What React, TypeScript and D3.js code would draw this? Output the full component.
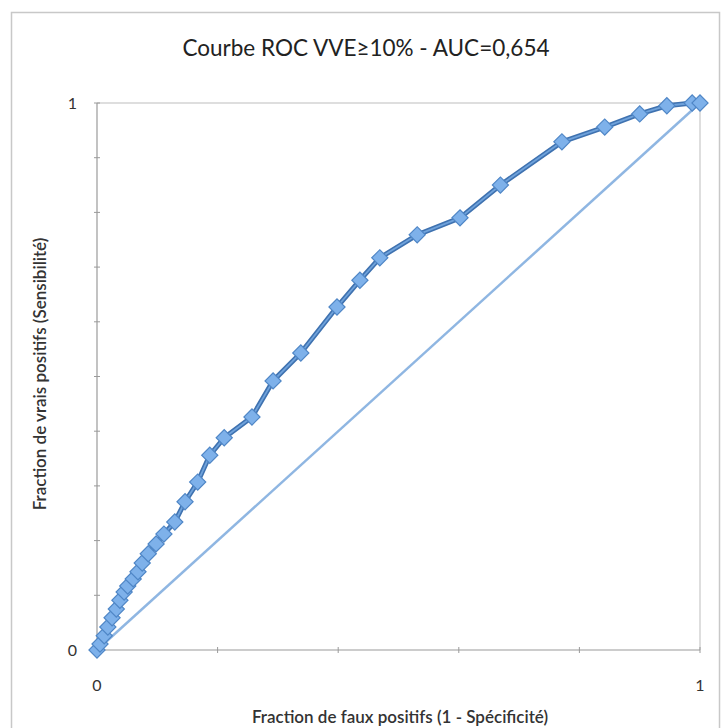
import { useMemo } from "react";
import * as d3 from "d3";

// ROC points (1 - specificity, sensitivity)
const fpr = [
  0, 0.005, 0.012, 0.018, 0.025, 0.032, 0.038, 0.045, 0.051, 0.06, 0.068, 0.075,
  0.085, 0.098, 0.111, 0.129, 0.146, 0.167, 0.187, 0.211, 0.257, 0.292, 0.338,
  0.398, 0.436, 0.469, 0.531, 0.602, 0.669, 0.771, 0.842, 0.9, 0.945, 0.987, 1,
];
const tpr = [
  0, 0.011, 0.026, 0.042, 0.059, 0.075, 0.091, 0.106, 0.117, 0.13, 0.143, 0.159,
  0.176, 0.194, 0.212, 0.234, 0.271, 0.307, 0.356, 0.388, 0.426, 0.492, 0.543,
  0.627, 0.676, 0.717, 0.759, 0.79, 0.85, 0.929, 0.956, 0.98, 0.995, 1, 1,
];
const diagonal = [0, 1];
const xTickValues = [0, 0.2, 0.4, 0.6, 0.8, 1];
const yTickValues = [0, 0.1, 0.2, 0.3, 0.4, 0.5, 0.6, 0.7, 0.8, 0.9, 1];
const tickLabels = ["0", "1"];

const title = "Courbe ROC VVE≥10% - AUC=0,654";
const xTitle = "Fraction de faux positifs (1 - Spécificité)";
const yTitle = "Fraction de vrais positifs (Sensibilité)";

export default function App() {
  const W = 723;
  const H = 728;
  const left = 97, right = 700, top = 103, bottom = 650;

  const x = d3.scaleLinear().domain([0, 1]).range([left, right]);
  const y = d3.scaleLinear().domain([0, 1]).range([bottom, top]);

  const pts = useMemo(() => fpr.map((v, i) => [v, tpr[i]] as [number, number]), []);
  const line = d3
    .line<[number, number]>()
    .x((d) => x(d[0]))
    .y((d) => y(d[1]));
  const diamond = d3.symbol(d3.symbolSquare, 130)() as string;

  const font = "Lato, 'Open Sans', sans-serif";

  return (
    <div style={{ position: "absolute", left: 0, top: 0 }}>
      <svg width={W} height={H} style={{ display: "block", background: "#fff" }}>
        {/* chart border */}
        <rect x={11.5} y={12.5} width={708} height={730} fill="none" stroke="#c8c8c8" strokeWidth={1.5} />

        <text x={366} y={56} textAnchor="middle" fontFamily={font} fontSize={22.5} fill="#222">
          {title}
        </text>

        {/* plot frame */}
        <line x1={left} x2={right} y1={top} y2={top} stroke="#bdbdbd" strokeWidth={1} />
        <line x1={right} x2={right} y1={top} y2={bottom} stroke="#bdbdbd" strokeWidth={1} />
        <line x1={left} x2={right} y1={bottom} y2={bottom} stroke="#9a9a9a" strokeWidth={1.2} />
        <line x1={left} x2={left} y1={top} y2={bottom} stroke="#9a9a9a" strokeWidth={1.2} />

        {xTickValues.map((t) => (
          <line key={"xt" + t} x1={x(t)} x2={x(t)} y1={bottom - 3} y2={bottom + 3} stroke="#9a9a9a" />
        ))}
        {yTickValues.map((t) => (
          <line key={"yt" + t} x1={left - 3} x2={left + 3} y1={y(t)} y2={y(t)} stroke="#9a9a9a" />
        ))}

        {tickLabels.map((l, i) => (
          <text key={"xl" + l} x={x(i)} y={bottom + 41} textAnchor="middle" fontFamily={font} fontSize={16} fill="#333">
            {l}
          </text>
        ))}
        {tickLabels.map((l, i) => (
          <text key={"yl" + l} x={left - 20} y={y(i) + 6} textAnchor="end" fontFamily={font} fontSize={16} fill="#333">
            {l}
          </text>
        ))}

        <text x={400} y={723} textAnchor="middle" fontFamily={font} fontSize={17} fontWeight={600} fill="#333">
          {xTitle}
        </text>
        <text
          transform={`translate(46,374) rotate(-90)`}
          textAnchor="middle"
          fontFamily={font}
          fontSize={17}
          fontWeight={600}
          fill="#333"
        >
          {yTitle}
        </text>

        {/* random classifier diagonal */}
        <line
          x1={x(diagonal[0])}
          y1={y(diagonal[0])}
          x2={x(diagonal[1])}
          y2={y(diagonal[1])}
          stroke="#8fb6e2"
          strokeWidth={2.5}
        />

        <path d={line(pts) || ""} fill="none" stroke="#3f72b0" strokeWidth={5} strokeLinejoin="round" />
        <path d={line(pts) || ""} fill="none" stroke="#6fa2db" strokeWidth={1.8} strokeLinejoin="round" />
        {pts.map((d, i) => (
          <path
            key={i}
            d={diamond}
            transform={`translate(${x(d[0])},${y(d[1])}) rotate(45)`}
            fill="#7eb1ea"
            stroke="#4f86c6"
            strokeWidth={1.2}
          />
        ))}
      </svg>
    </div>
  );
}
